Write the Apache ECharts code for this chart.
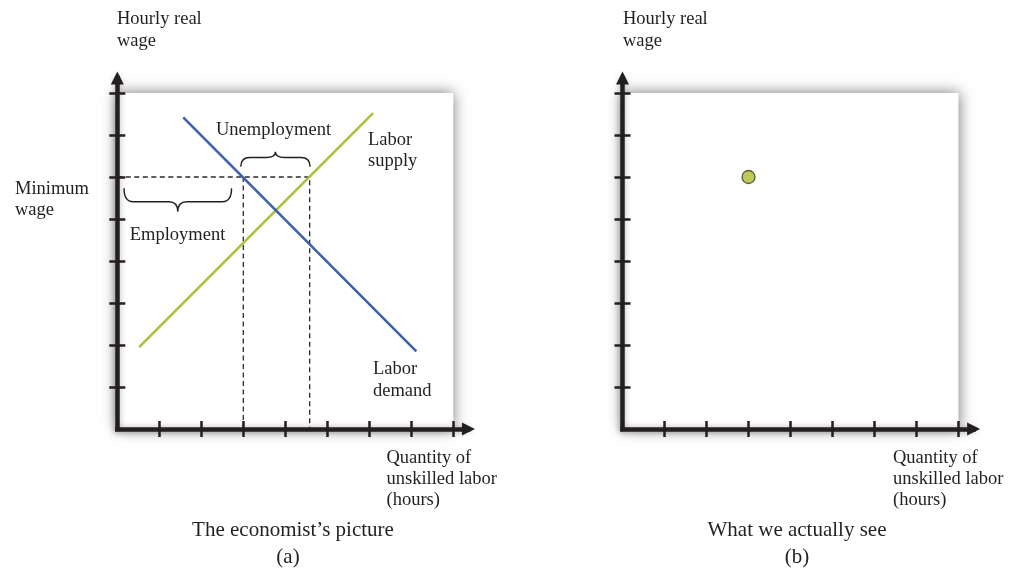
<!DOCTYPE html>
<html>
<head>
<meta charset="utf-8">
<script src="https://cdn.jsdelivr.net/npm/echarts@6/dist/echarts.min.js"></script>
<style>
html,body{margin:0;padding:0;background:#fff;}
#chart{width:1018px;height:569px;}
</style>
</head>
<body>
<div id="chart"></div>
<script>
// ---------- data ----------
const tickValues = [1, 2, 3, 4, 5, 6, 7, 8];
const boxExtent = [0, 8];
const laborDemand = [[1.57, 7.42], [7.12, 1.85]];
const laborSupply = [[0.52, 1.95], [6.09, 7.52]];
const minimumWage = 6;
const employmentQty = 3;
const supplyAtMinimum = 4.58;
const employmentBrace = [0.16, 2.72, 5.73, 5.17];     // x0, x1, yEnd, yTip
const unemploymentBrace = [2.94, 4.59, 6.245, 6.6];
const observedPoint = [[3, 6]];

// ---------- layout ----------
const unit = 42;
const axisMax = 8.36;
const side = unit * axisMax;
const originY = 429;
const originXA = 117.3;
const originXB = 622.5;
const ink = '#231f20';
const serif = 'Liberation Serif';

function grid(left) {
  return { left: left, top: originY - side, width: side, height: side, containLabel: false };
}
function axisCommon(gi, inner, pos) {
  return {
    type: 'value', gridIndex: gi, min: 0, max: axisMax, interval: 1, position: pos, z: 10,
    axisLine: { show: !inner, onZero: false, symbol: ['none', 'triangle'], symbolSize: [13, 13],
      lineStyle: { color: ink, width: 4.5, cap: 'square', shadowBlur: 6, shadowColor: 'rgba(0,0,0,0.3)' } },
    axisTick: { show: true, inside: !!inner, length: 8, customValues: tickValues,
      lineStyle: { color: ink, width: 2.5 } },
    axisLabel: { show: false }, splitLine: { show: false }
  };
}
function xAx(gi, inner) { return axisCommon(gi, inner, 'bottom'); }
function yAx(gi, inner) { return axisCommon(gi, inner, 'left'); }
function boxSeries(xi, yi) {
  return {
    type: 'line', xAxisIndex: xi, yAxisIndex: yi, data: [], z: 1, silent: true,
    markArea: {
      silent: true,
      itemStyle: { color: '#ffffff', shadowBlur: 14, shadowColor: 'rgba(0,0,0,0.55)' },
      data: [[{ coord: [boxExtent[0], boxExtent[0]] }, { coord: [boxExtent[1], boxExtent[1]] }]]
    }
  };
}
function bracePath(a, b, t, frac) {
  const x0 = a[0], x1 = b[0], yE = a[1], xm = t[0], yT = t[1];
  const yM = yE + (yT - yE) * frac, q = 9;
  return 'M' + x0 + ',' + yE + ' Q' + x0 + ',' + yM + ' ' + (x0 + q) + ',' + yM +
    ' L' + (xm - q) + ',' + yM + ' Q' + xm + ',' + yM + ' ' + xm + ',' + yT +
    ' Q' + xm + ',' + yM + ' ' + (xm + q) + ',' + yM +
    ' L' + (x1 - q) + ',' + yM + ' Q' + x1 + ',' + yM + ' ' + x1 + ',' + yE;
}

const dashStyle = { color: '#2a2a2a', width: 1.3, type: [5, 3.5] };

const series = [
  boxSeries(0, 0),
  boxSeries(2, 2),
  { type: 'line', xAxisIndex: 0, yAxisIndex: 0, z: 2, symbol: 'none', silent: true,
    data: [[0, minimumWage], [supplyAtMinimum, minimumWage], [supplyAtMinimum, 0]], lineStyle: dashStyle },
  { type: 'line', xAxisIndex: 0, yAxisIndex: 0, z: 2, symbol: 'none', silent: true,
    data: [[employmentQty, minimumWage], [employmentQty, 0]], lineStyle: dashStyle },
  { type: 'line', xAxisIndex: 0, yAxisIndex: 0, z: 3, symbol: 'none', silent: true,
    data: laborSupply, lineStyle: { color: '#a9c23b', width: 2.6 } },
  { type: 'line', xAxisIndex: 0, yAxisIndex: 0, z: 3, symbol: 'none', silent: true,
    data: laborDemand, lineStyle: { color: '#3d62ab', width: 2.6 } },
  { type: 'custom', xAxisIndex: 0, yAxisIndex: 0, z: 3, silent: true,
    data: [employmentBrace.concat([0.57]), unemploymentBrace.concat([0.62])],
    encode: { x: [0, 1], y: [2, 3] },
    renderItem: function (params, api) {
      const x0 = api.value(0), x1 = api.value(1), yE = api.value(2), yT = api.value(3), f = api.value(4);
      const a = api.coord([x0, yE]), b = api.coord([x1, yE]), t = api.coord([(x0 + x1) / 2, yT]);
      return { type: 'path', shape: { pathData: bracePath(a, b, t, f) },
        style: { stroke: ink, fill: null, lineWidth: 1.4 } };
    }
  },
  { type: 'scatter', xAxisIndex: 2, yAxisIndex: 2, z: 3, silent: true, symbolSize: 13,
    data: observedPoint,
    itemStyle: { color: '#aebb2f', borderColor: '#3b3b22', borderWidth: 1.3 } }
];

function txt(x, y, text, align, size, lh) {
  return { type: 'text', x: x, y: y, z: 20, silent: true,
    style: { text: text, fill: ink, fontFamily: serif, fontSize: size || 18.5,
      textAlign: align || 'left', textVerticalAlign: 'middle', lineHeight: lh || 21.5 } };
}

const graphics = [
  txt(117, 30, 'Hourly real\nwage'),
  txt(15, 199.5, 'Minimum\nwage'),
  txt(273.5, 130.5, 'Unemployment', 'center'),
  txt(368, 150.5, 'Labor\nsupply'),
  txt(177.5, 235, 'Employment', 'center'),
  txt(373, 380, 'Labor\ndemand'),
  txt(386.5, 479.5, 'Quantity of\nunskilled labor\n(hours)', 'left', 18.5, 21),
  txt(293, 530, 'The economist\u2019s picture', 'center', 21),
  txt(288, 557, '(a)', 'center', 21),
  txt(623, 30, 'Hourly real\nwage'),
  txt(893, 479.5, 'Quantity of\nunskilled labor\n(hours)', 'left', 18.5, 21),
  txt(797, 530, 'What we actually see', 'center', 21),
  txt(797, 557, '(b)', 'center', 21)
];

const chart = echarts.init(document.getElementById('chart'), null, { renderer: 'canvas' });
chart.setOption({
  backgroundColor: '#ffffff',
  animation: false,
  grid: [grid(originXA), grid(originXB)],
  xAxis: [xAx(0, false), xAx(0, true), xAx(1, false), xAx(1, true)],
  yAxis: [yAx(0, false), yAx(0, true), yAx(1, false), yAx(1, true)],
  series: series,
  graphic: graphics
});
</script>
</body>
</html>
